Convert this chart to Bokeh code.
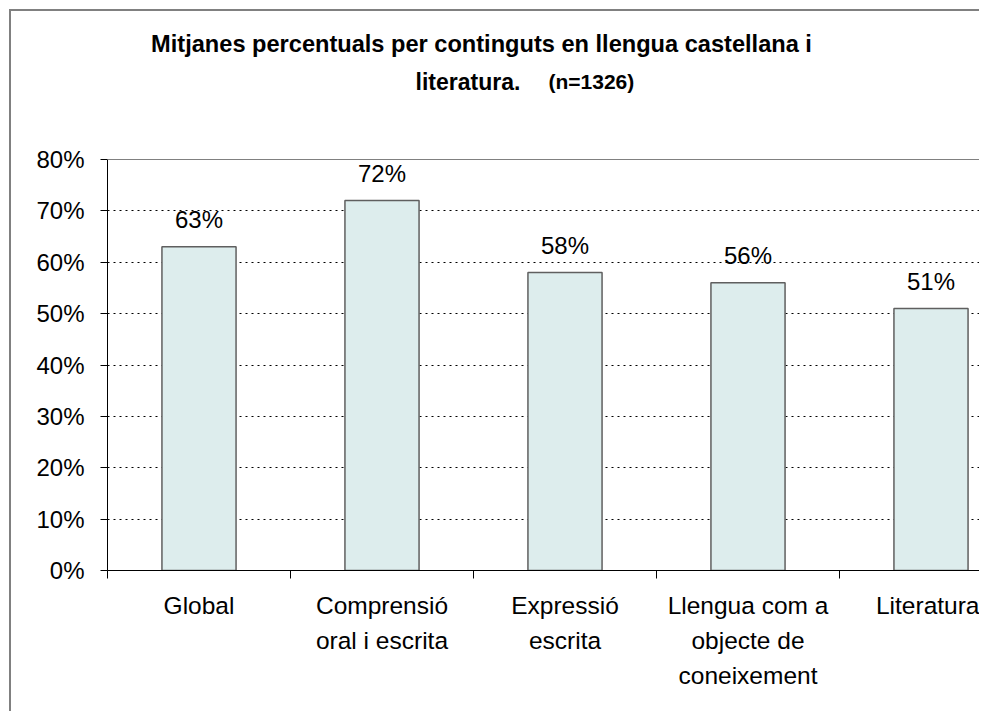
from bokeh.plotting import figure
from bokeh.models import ColumnDataSource, Range1d, FixedTicker, NumeralTickFormatter, Span, Label
from bokeh.embed import file_html
from bokeh.resources import INLINE
from bokeh.core.properties import value

# ---- data ----
categories = ["Global", "Comprensió\noral i escrita", "Expressió\nescrita",
              "Llengua com a\nobjecte de\nconeixement", "Literatura"]
values = [0.63, 0.72, 0.58, 0.56, 0.51]
value_labels = ["63%", "72%", "58%", "56%", "51%"]
y_ticks = [0.0, 0.1, 0.2, 0.3, 0.4, 0.5, 0.6, 0.7, 0.8]
grid_ticks = [0.1, 0.2, 0.3, 0.4, 0.5, 0.6, 0.7]
title_line1 = "Mitjanes percentuals per continguts en llengua castellana i"
title_line2 = "literatura."
title_note = "(n=1326)"

FONT = "Liberation Sans"

positions = [i + 0.5 for i in range(len(categories))]
boundaries = [float(i) for i in range(len(categories) + 1)]
y_max = y_ticks[-1]

src = ColumnDataSource(dict(x=positions, top=values, lab=value_labels))

# frame: bottom at 559 px, value axis top (80%) at 148 px, frame top at canvas top
frame_bottom, axis_top = 559, 148
p = figure(width=970, height=702, title=None,
           x_range=Range1d(0, 874 / 183),
           y_range=Range1d(0, y_max * frame_bottom / (frame_bottom - axis_top)),
           toolbar_location=None, output_backend="svg",
           min_border_left=96, min_border_top=0,
           min_border_bottom=702 - frame_bottom, min_border_right=0)
p.styles = {"margin-top": "9px", "margin-left": "9px",
            "border-top": "2px solid #808080", "border-left": "2px solid #808080"}
p.outline_line_color = None
p.background_fill_color = "white"
p.border_fill_color = "white"

# grid
p.xgrid.visible = False
p.ygrid.ticker = FixedTicker(ticks=grid_ticks)
p.ygrid.grid_line_color = "black"
p.ygrid.grid_line_dash = "2 4"
p.ygrid.grid_line_width = 1
p.add_layout(Span(location=y_max, dimension="width", line_color="#808080", line_width=1))

# bars
p.vbar(x="x", top="top", width=0.405, source=src,
       fill_color="#DDEDED", line_color="#5f5f5f", line_width=1.5)

# data labels
p.text(x="x", y="top", text="lab", source=src, text_align="center",
       text_baseline="alphabetic", y_offset=-27,
       text_font=value(FONT), text_font_size="24px", text_color="black")

# y axis
ya = p.yaxis[0]
ya.bounds = (0, y_max)
ya.ticker = FixedTicker(ticks=y_ticks)
ya.formatter = NumeralTickFormatter(format="0%")
ya.major_label_text_font = FONT
ya.major_label_text_font_size = "24px"
ya.major_label_text_color = "black"
ya.axis_line_color = "black"
ya.major_tick_line_color = "black"
ya.major_tick_out = 7
ya.major_tick_in = 0
ya.minor_tick_line_color = None
ya.major_label_standoff = 16

# x axis
xa = p.xaxis[0]
xa.ticker = FixedTicker(ticks=positions, minor_ticks=boundaries)
xa.major_label_overrides = {pos: cat for pos, cat in zip(positions, categories)}
xa.major_label_text_font = FONT
xa.major_label_text_font_size = "24.5px"
xa.major_label_text_color = "black"
xa.major_label_text_line_height = 1.3
xa.axis_line_color = "black"
xa.major_tick_line_color = None
xa.major_tick_out = 0
xa.major_tick_in = 0
xa.minor_tick_line_color = "black"
xa.minor_tick_out = 8
xa.minor_tick_in = 0
xa.major_label_standoff = 13

# title (screen pixels relative to the frame's bottom-left corner)
p.add_layout(Label(x=374, y=527, x_units="screen", y_units="screen", text=title_line1,
                   text_align="center", text_baseline="alphabetic", text_color="black",
                   text_font=FONT, text_font_style="bold", text_font_size="23.6px"))
p.add_layout(Label(x=308, y=489, x_units="screen", y_units="screen", text=title_line2,
                   text_align="left", text_baseline="alphabetic", text_color="black",
                   text_font=FONT, text_font_style="bold", text_font_size="23px"))
p.add_layout(Label(x=441, y=489, x_units="screen", y_units="screen", text=title_note,
                   text_align="left", text_baseline="alphabetic", text_color="black",
                   text_font=FONT, text_font_style="bold", text_font_size="21px"))

open("out.html", "w").write(file_html(p, INLINE))
